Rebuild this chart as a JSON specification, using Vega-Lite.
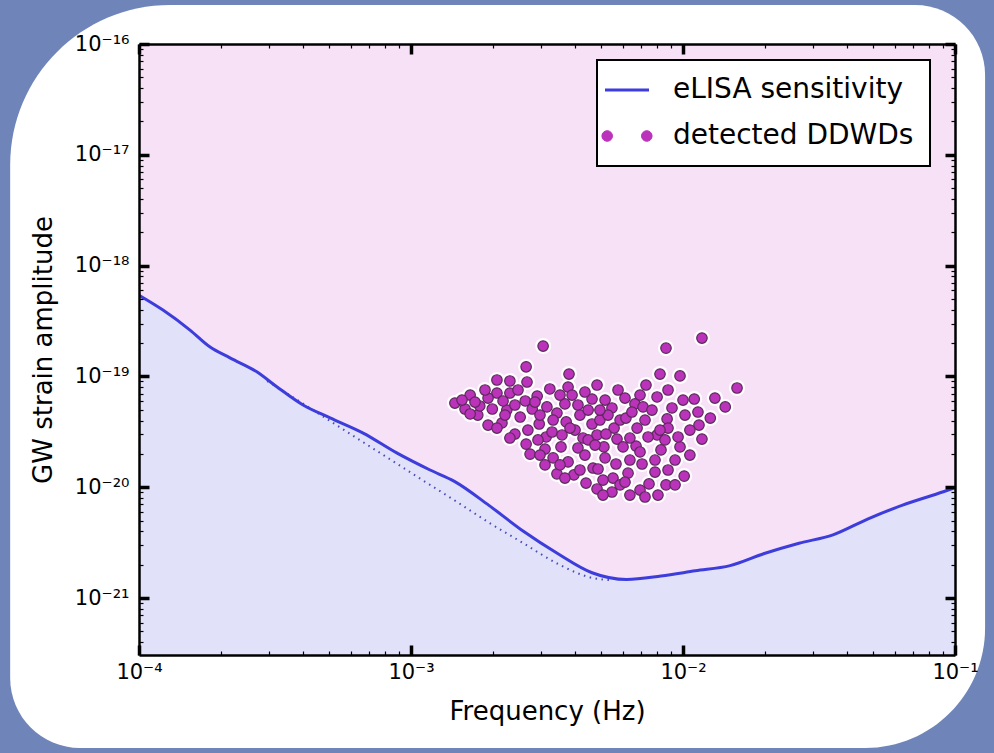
{
  "$schema": "https://vega.github.io/schema/vega-lite/v6.json",
  "width": 816,
  "height": 611,
  "autosize": {"type": "none"},
  "padding": {"left": 139, "top": 44, "right": 39, "bottom": 98},
  "background": "#6f85b9",
  "config": {"view": {"stroke": null}},
  "datasets": {
    "panel": [{"x1": 3.36e-5, "x2": 0.129, "y1": 2.25e-16, "y2": 4.43e-23}],
    "curve": [
      {"f": 1e-4, "h": 5.4e-19}, {"f": 1.225e-4, "h": 3.97e-19}, {"f": 1.54e-4, "h": 2.62e-19},
      {"f": 1.82e-4, "h": 1.85e-19}, {"f": 2.16e-4, "h": 1.47e-19}, {"f": 2.71e-4, "h": 1.10e-19},
      {"f": 3.21e-4, "h": 8.07e-20}, {"f": 4.01e-4, "h": 5.52e-20}, {"f": 5.04e-4, "h": 4.22e-20},
      {"f": 6.67e-4, "h": 3.08e-20}, {"f": 8.86e-4, "h": 2.04e-20}, {"f": 1.175e-3, "h": 1.43e-20},
      {"f": 1.444e-3, "h": 1.13e-20}, {"f": 1.934e-3, "h": 6.86e-21}, {"f": 2.59e-3, "h": 4.0e-21},
      {"f": 3.46e-3, "h": 2.52e-21}, {"f": 4.63e-3, "h": 1.69e-21}, {"f": 6.21e-3, "h": 1.47e-21},
      {"f": 8.30e-3, "h": 1.58e-21}, {"f": 1.11e-2, "h": 1.76e-21}, {"f": 1.49e-2, "h": 1.96e-21},
      {"f": 1.99e-2, "h": 2.52e-21}, {"f": 2.67e-2, "h": 3.12e-21}, {"f": 3.56e-2, "h": 3.72e-21},
      {"f": 4.77e-2, "h": 5.16e-21}, {"f": 6.38e-2, "h": 6.86e-21}, {"f": 9.06e-2, "h": 9.1e-21},
      {"f": 0.1, "h": 9.9e-21}
    ],
    "dotted": [
      {"f": 2.96e-4, "h": 9.09e-20}, {"f": 3.5e-4, "h": 7.02e-20}, {"f": 5.04e-4, "h": 3.96e-20},
      {"f": 7.69e-4, "h": 2.04e-20}, {"f": 1.175e-3, "h": 1.05e-20}, {"f": 1.44e-3, "h": 7.66e-21},
      {"f": 1.935e-3, "h": 4.79e-21}, {"f": 2.58e-3, "h": 3.14e-21}, {"f": 3.47e-3, "h": 2.03e-21},
      {"f": 4.63e-3, "h": 1.52e-21}, {"f": 5.4e-3, "h": 1.45e-21}
    ],
    "points": [
      {"f": 3.06e-3, "h": 1.88e-19}, {"f": 1.174e-2, "h": 2.22e-19}, {"f": 8.66e-3, "h": 1.80e-19},
      {"f": 2.65e-3, "h": 1.22e-19}, {"f": 3.81e-3, "h": 1.05e-19}, {"f": 8.23e-3, "h": 1.05e-19},
      {"f": 9.75e-3, "h": 1.01e-19}, {"f": 2.07e-3, "h": 9.28e-20}, {"f": 2.31e-3, "h": 9.09e-20},
      {"f": 2.67e-3, "h": 8.90e-20}, {"f": 4.83e-3, "h": 8.36e-20}, {"f": 7.31e-3, "h": 8.36e-20},
      {"f": 1.58e-2, "h": 7.86e-20}, {"f": 2.07e-3, "h": 7.08e-20}, {"f": 2.31e-3, "h": 7.08e-20},
      {"f": 1.65e-3, "h": 6.79e-20}, {"f": 2.91e-3, "h": 6.65e-20}, {"f": 3.24e-3, "h": 7.70e-20},
      {"f": 3.78e-3, "h": 8.02e-20}, {"f": 1.45e-3, "h": 5.75e-20}, {"f": 2.63e-3, "h": 6.00e-20},
      {"f": 3.68e-3, "h": 5.64e-20}, {"f": 4.11e-3, "h": 5.52e-20}, {"f": 4.63e-3, "h": 6.25e-20},
      {"f": 3.16e-3, "h": 5.30e-20}, {"f": 1.58e-3, "h": 5.08e-20}, {"f": 1.76e-3, "h": 4.48e-20},
      {"f": 2.25e-3, "h": 4.97e-20}, {"f": 2.52e-3, "h": 4.30e-20}, {"f": 3.44e-3, "h": 4.67e-20},
      {"f": 4.18e-3, "h": 4.48e-20}, {"f": 4.48e-3, "h": 4.97e-20}, {"f": 5.77e-3, "h": 7.54e-20},
      {"f": 6.12e-3, "h": 6.38e-20}, {"f": 6.66e-3, "h": 5.64e-20}, {"f": 7.13e-3, "h": 5.30e-20},
      {"f": 5.48e-3, "h": 5.19e-20}, {"f": 8.03e-3, "h": 6.52e-20}, {"f": 1.00e-2, "h": 6.12e-20},
      {"f": 1.10e-2, "h": 6.25e-20}, {"f": 1.135e-2, "h": 4.77e-20}, {"f": 1.43e-2, "h": 5.30e-20},
      {"f": 8.74e-3, "h": 4.13e-20}, {"f": 1.79e-3, "h": 5.41e-20}, {"f": 1.99e-3, "h": 5.08e-20},
      {"f": 2.16e-3, "h": 3.80e-20}, {"f": 2.96e-3, "h": 3.72e-20}, {"f": 3.72e-3, "h": 3.88e-20},
      {"f": 4.63e-3, "h": 3.72e-20}, {"f": 2.65e-3, "h": 2.45e-20}, {"f": 3.11e-3, "h": 2.21e-20},
      {"f": 3.56e-3, "h": 2.31e-20}, {"f": 4.11e-3, "h": 2.26e-20}, {"f": 3.14e-3, "h": 2.84e-20},
      {"f": 2.41e-3, "h": 3.02e-20}, {"f": 3.78e-3, "h": 1.69e-20}, {"f": 4.67e-3, "h": 1.49e-20},
      {"f": 3.44e-3, "h": 1.32e-20}, {"f": 3.97e-3, "h": 1.29e-20}, {"f": 4.40e-3, "h": 1.09e-20},
      {"f": 4.83e-3, "h": 9.64e-21}, {"f": 2.74e-3, "h": 1.99e-20}, {"f": 3.33e-3, "h": 1.84e-20},
      {"f": 4.29e-3, "h": 2.78e-20}, {"f": 4.83e-3, "h": 2.96e-20}, {"f": 5.58e-3, "h": 3.42e-20},
      {"f": 6.78e-3, "h": 3.42e-20}, {"f": 8.81e-3, "h": 3.42e-20}, {"f": 1.145e-2, "h": 3.64e-20},
      {"f": 1.174e-2, "h": 2.72e-20}, {"f": 5.12e-3, "h": 2.31e-20}, {"f": 6.72e-3, "h": 2.35e-20},
      {"f": 8.30e-3, "h": 2.17e-20}, {"f": 9.75e-3, "h": 2.31e-20}, {"f": 5.67e-3, "h": 1.62e-20},
      {"f": 7.07e-3, "h": 1.62e-20}, {"f": 8.81e-3, "h": 1.43e-20}, {"f": 1.01e-2, "h": 1.26e-20},
      {"f": 4.87e-3, "h": 1.46e-20}, {"f": 5.53e-3, "h": 1.21e-20}, {"f": 6.28e-3, "h": 1.34e-20},
      {"f": 7.50e-3, "h": 1.07e-20}, {"f": 8.66e-3, "h": 1.05e-20}, {"f": 5.48e-3, "h": 9.05e-21},
      {"f": 6.38e-3, "h": 8.50e-21}, {"f": 8.09e-3, "h": 8.50e-21}, {"f": 8.03e-3, "h": 2.96e-20},
      {"f": 5.21e-3, "h": 3.02e-20}, {"f": 5.72e-3, "h": 2.72e-20}, {"f": 7.44e-3, "h": 2.84e-20},
      {"f": 6.02e-3, "h": 2.31e-20}, {"f": 8.23e-3, "h": 3.28e-20}, {"f": 1.54e-3, "h": 6.12e-20},
      {"f": 1.92e-3, "h": 6.38e-20}, {"f": 2.18e-3, "h": 6.00e-20}, {"f": 2.41e-3, "h": 5.52e-20},
      {"f": 2.79e-3, "h": 5.08e-20}, {"f": 2.98e-3, "h": 4.48e-20}, {"f": 3.33e-3, "h": 4.04e-20},
      {"f": 2.69e-3, "h": 3.28e-20}, {"f": 2.93e-3, "h": 2.67e-20}, {"f": 3.30e-3, "h": 3.15e-20},
      {"f": 3.59e-3, "h": 2.96e-20}, {"f": 4.01e-3, "h": 3.28e-20}, {"f": 4.48e-3, "h": 2.67e-20},
      {"f": 4.95e-3, "h": 4.04e-20}, {"f": 5.30e-3, "h": 4.48e-20}, {"f": 5.87e-3, "h": 4.04e-20},
      {"f": 6.17e-3, "h": 4.21e-20}, {"f": 6.49e-3, "h": 4.77e-20}, {"f": 7.25e-3, "h": 4.04e-20},
      {"f": 7.69e-3, "h": 4.97e-20}, {"f": 9.11e-3, "h": 5.19e-20}, {"f": 9.59e-3, "h": 2.84e-20},
      {"f": 1.06e-2, "h": 3.28e-20}, {"f": 1.06e-2, "h": 1.95e-20}, {"f": 9.35e-3, "h": 1.76e-20},
      {"f": 7.89e-3, "h": 1.76e-20}, {"f": 6.38e-3, "h": 1.76e-20}, {"f": 5.17e-3, "h": 1.84e-20},
      {"f": 4.36e-3, "h": 1.95e-20}, {"f": 3.68e-3, "h": 1.21e-20}, {"f": 3.11e-3, "h": 1.59e-20},
      {"f": 5.08e-3, "h": 1.16e-20}, {"f": 5.87e-3, "h": 1.05e-20}, {"f": 6.95e-3, "h": 9.43e-21},
      {"f": 9.35e-3, "h": 1.05e-20}, {"f": 1.26e-2, "h": 4.21e-20}, {"f": 1.31e-2, "h": 6.38e-20},
      {"f": 3.91e-3, "h": 6.79e-20}, {"f": 5.17e-3, "h": 6.12e-20}, {"f": 1.92e-3, "h": 3.64e-20},
      {"f": 2.31e-3, "h": 2.78e-20}, {"f": 1.65e-3, "h": 4.58e-20},
      {"f": 2.216e-3, "h": 4.48e-20}, {"f": 2.857e-3, "h": 5.87e-20}, {"f": 3.53e-3, "h": 6.79e-20},
      {"f": 4.36e-3, "h": 7.23e-20}, {"f": 3.842e-3, "h": 3.42e-20}, {"f": 2.98e-3, "h": 1.95e-20},
      {"f": 3.53e-3, "h": 1.59e-20}, {"f": 4.18e-3, "h": 1.43e-20}, {"f": 6.12e-3, "h": 1.11e-20},
      {"f": 7.89e-3, "h": 1.37e-20}, {"f": 6.95e-3, "h": 2.08e-20}, {"f": 4.749e-3, "h": 2.40e-20},
      {"f": 6.38e-3, "h": 2.78e-20}, {"f": 8.587e-3, "h": 2.67e-20}, {"f": 1.017e-2, "h": 4.48e-20},
      {"f": 4.95e-3, "h": 4.97e-20}, {"f": 6.95e-3, "h": 6.79e-20}, {"f": 8.81e-3, "h": 7.54e-20},
      {"f": 2.474e-3, "h": 7.54e-20}, {"f": 1.871e-3, "h": 7.54e-20}, {"f": 1.719e-3, "h": 5.87e-20},
      {"f": 2.07e-3, "h": 3.42e-20}, {"f": 7.25e-3, "h": 8.16e-21}, {"f": 5.08e-3, "h": 8.50e-21}
    ]
  },
  "layer": [
    {
      "data": {"name": "panel"},
      "mark": {"type": "rect", "fill": "white", "clip": false, "cornerRadiusTopLeft": 160, "cornerRadiusBottomRight": 120, "cornerRadiusTopRight": 70, "cornerRadiusBottomLeft": 70},
      "encoding": {
        "x": {"field": "x1", "type": "quantitative", "scale": {"type": "log", "domain": [0.0001, 0.1], "nice": false}, "axis": null},
        "x2": {"field": "x2"},
        "y": {"field": "y1", "type": "quantitative", "scale": {"type": "log", "domain": [3.06e-22, 1e-16], "nice": false}, "axis": null},
        "y2": {"field": "y2"}
      }
    },
    {
      "data": {"name": "curve"},
      "mark": {"type": "area", "fill": "#f6e1f6", "interpolate": "monotone", "clip": true},
      "encoding": {
        "x": {"field": "f", "type": "quantitative", "scale": {"type": "log", "domain": [0.0001, 0.1], "nice": false},
          "axis": {
            "orient": "bottom", "title": "Frequency (Hz)",
            "values": [0.0001,0.0002,0.0003,0.0004,0.0005,0.0006,0.0007,0.0008,0.0009,0.001,0.002,0.003,0.004,0.005,0.006,0.007,0.008,0.009,0.01,0.02,0.03,0.04,0.05,0.06,0.07,0.08,0.09,0.1],
            "grid": false, "zindex": 2,
            "domainColor": "black", "domainWidth": 2.5,
            "tickColor": "black",
            "tickWidth": {"condition": {"test": "abs(log(datum.value)/LN10 - round(log(datum.value)/LN10)) < 0.001", "value": 3.5}, "value": 1.2},
            "tickSize": {"condition": {"test": "abs(log(datum.value)/LN10 - round(log(datum.value)/LN10)) < 0.001", "value": -10}, "value": -4},
            "labelExpr": "abs(log(datum.value)/LN10 - round(log(datum.value)/LN10)) < 0.001 ? '10' + replace(replace(replace(replace(replace(replace(replace(replace(replace(replace(toString(round(log(datum.value)/LN10)), '-', '⁻'), '0', '⁰'), '1', '¹'), '2', '²'), '3', '³'), '4', '⁴'), '6', '⁶'), '7', '⁷'), '8', '⁸'), '9', '⁹') : ''",
            "labelFont": "DejaVu Sans", "labelFontSize": 21, "labelColor": "black", "labelPadding": 16,
            "labelFlush": false, "labelOverlap": false, "labelBound": false,
            "titleFont": "DejaVu Sans", "titleFontSize": 26, "titleFontWeight": "normal", "titleColor": "black", "titlePadding": 10
          }
        },
        "y": {"field": "h", "type": "quantitative", "scale": {"type": "log", "domain": [3.06e-22, 1e-16], "nice": false},
          "axis": {
            "orient": "left", "title": "GW strain amplitude",
            "values": [4e-22,5e-22,6e-22,7e-22,8e-22,9e-22,1e-21,2e-21,3e-21,4e-21,5e-21,6e-21,7e-21,8e-21,9e-21,1e-20,2e-20,3e-20,4e-20,5e-20,6e-20,7e-20,8e-20,9e-20,1e-19,2e-19,3e-19,4e-19,5e-19,6e-19,7e-19,8e-19,9e-19,1e-18,2e-18,3e-18,4e-18,5e-18,6e-18,7e-18,8e-18,9e-18,1e-17,2e-17,3e-17,4e-17,5e-17,6e-17,7e-17,8e-17,9e-17,1e-16],
            "grid": false, "zindex": 2,
            "domainColor": "black", "domainWidth": 2.5,
            "tickColor": "black",
            "tickWidth": {"condition": {"test": "abs(log(datum.value)/LN10 - round(log(datum.value)/LN10)) < 0.001", "value": 3.5}, "value": 1.2},
            "tickSize": {"condition": {"test": "abs(log(datum.value)/LN10 - round(log(datum.value)/LN10)) < 0.001", "value": -10}, "value": -4},
            "labelExpr": "abs(log(datum.value)/LN10 - round(log(datum.value)/LN10)) < 0.001 ? '10' + replace(replace(replace(replace(replace(replace(replace(replace(replace(replace(toString(round(log(datum.value)/LN10)), '-', '⁻'), '0', '⁰'), '1', '¹'), '2', '²'), '3', '³'), '4', '⁴'), '6', '⁶'), '7', '⁷'), '8', '⁸'), '9', '⁹') : ''",
            "labelFont": "DejaVu Sans", "labelFontSize": 21, "labelColor": "black", "labelPadding": 20,
            "labelFlush": false, "labelOverlap": false, "labelBound": false,
            "titleFont": "DejaVu Sans", "titleFontSize": 26, "titleFontWeight": "normal", "titleColor": "black", "titlePadding": 18
          }
        },
        "y2": {"datum": 1e-16}
      }
    },
    {
      "data": {"name": "curve"},
      "mark": {"type": "area", "fill": "#e1e1fa", "interpolate": "monotone", "clip": true},
      "encoding": {
        "x": {"field": "f", "type": "quantitative", "scale": {"type": "log", "domain": [0.0001, 0.1], "nice": false},
          "axis": {
            "orient": "top", "title": null, "labels": false,
            "values": [0.0001,0.0002,0.0003,0.0004,0.0005,0.0006,0.0007,0.0008,0.0009,0.001,0.002,0.003,0.004,0.005,0.006,0.007,0.008,0.009,0.01,0.02,0.03,0.04,0.05,0.06,0.07,0.08,0.09,0.1],
            "grid": false, "zindex": 2,
            "domainColor": "black", "domainWidth": 2.5,
            "tickColor": "black",
            "tickWidth": {"condition": {"test": "abs(log(datum.value)/LN10 - round(log(datum.value)/LN10)) < 0.001", "value": 3.5}, "value": 1.2},
            "tickSize": {"condition": {"test": "abs(log(datum.value)/LN10 - round(log(datum.value)/LN10)) < 0.001", "value": -10}, "value": -4}
          }
        },
        "y": {"field": "h", "type": "quantitative", "scale": {"type": "log", "domain": [3.06e-22, 1e-16], "nice": false},
          "axis": {
            "orient": "right", "title": null, "labels": false,
            "values": [4e-22,5e-22,6e-22,7e-22,8e-22,9e-22,1e-21,2e-21,3e-21,4e-21,5e-21,6e-21,7e-21,8e-21,9e-21,1e-20,2e-20,3e-20,4e-20,5e-20,6e-20,7e-20,8e-20,9e-20,1e-19,2e-19,3e-19,4e-19,5e-19,6e-19,7e-19,8e-19,9e-19,1e-18,2e-18,3e-18,4e-18,5e-18,6e-18,7e-18,8e-18,9e-18,1e-17,2e-17,3e-17,4e-17,5e-17,6e-17,7e-17,8e-17,9e-17,1e-16],
            "grid": false, "zindex": 2,
            "domainColor": "black", "domainWidth": 2.5,
            "tickColor": "black",
            "tickWidth": {"condition": {"test": "abs(log(datum.value)/LN10 - round(log(datum.value)/LN10)) < 0.001", "value": 3.5}, "value": 1.2},
            "tickSize": {"condition": {"test": "abs(log(datum.value)/LN10 - round(log(datum.value)/LN10)) < 0.001", "value": -10}, "value": -4}
          }
        },
        "y2": {"datum": 3.06e-22}
      }
    },
    {
      "data": {"name": "dotted"},
      "mark": {"type": "line", "color": "#4a4ab8", "strokeWidth": 2, "strokeDash": [1.5, 4.5], "interpolate": "monotone", "clip": true},
      "encoding": {
        "x": {"field": "f", "type": "quantitative", "scale": {"type": "log", "domain": [0.0001, 0.1], "nice": false}, "axis": null},
        "y": {"field": "h", "type": "quantitative", "scale": {"type": "log", "domain": [3.06e-22, 1e-16], "nice": false}, "axis": null}
      }
    },
    {
      "data": {"name": "curve"},
      "mark": {"type": "line", "strokeWidth": 3, "interpolate": "monotone", "clip": true},
      "encoding": {
        "x": {"field": "f", "type": "quantitative", "scale": {"type": "log", "domain": [0.0001, 0.1], "nice": false}, "axis": null},
        "y": {"field": "h", "type": "quantitative", "scale": {"type": "log", "domain": [3.06e-22, 1e-16], "nice": false}, "axis": null},
        "color": {"datum": "eLISA sensitivity", "type": "nominal",
          "scale": {"domain": ["eLISA sensitivity", "detected DDWDs"], "range": ["#3d3ddb", "#bb33bb"]},
          "legend": {
            "title": null, "orient": "none", "legendX": 458, "legendY": 16,
            "fillColor": "white", "strokeColor": "black", "padding": 16,
            "labelFont": "DejaVu Sans", "labelFontSize": 28, "labelColor": "black", "labelOffset": 32, "labelLimit": 500,
            "symbolSize": 1936, "rowPadding": 18,
            "encode": {
              "legend": {"update": {"strokeWidth": {"value": 2}}},
              "symbols": {"update": {
                "shape": {"signal": "datum.value === 'eLISA sensitivity' ? 'M-1,0L1,0' : 'M-1.14,0A0.24,0.24 0 1,1 -0.66,0A0.24,0.24 0 1,1 -1.14,0ZM0.66,0A0.24,0.24 0 1,1 1.14,0A0.24,0.24 0 1,1 0.66,0Z'"},
                "fill": {"signal": "datum.value === 'eLISA sensitivity' ? 'transparent' : '#bb33bb'"},
                "stroke": {"signal": "datum.value === 'eLISA sensitivity' ? '#3d3ddb' : '#5a2a5a'"},
                "strokeWidth": {"signal": "datum.value === 'eLISA sensitivity' ? 3 : 1"},
                "size": {"value": 1936},
                "opacity": {"value": 1}
              }}
            }
          }
        }
      }
    },
    {
      "data": {"name": "points"},
      "mark": {"type": "point", "shape": "circle", "filled": true, "fill": "white", "size": 260, "opacity": 0.9, "clip": true},
      "encoding": {
        "x": {"field": "f", "type": "quantitative", "scale": {"type": "log", "domain": [0.0001, 0.1], "nice": false}, "axis": null},
        "y": {"field": "h", "type": "quantitative", "scale": {"type": "log", "domain": [3.06e-22, 1e-16], "nice": false}, "axis": null}
      }
    },
    {
      "data": {"name": "points"},
      "mark": {"type": "point", "shape": "circle", "filled": true, "size": 110, "opacity": 1, "stroke": "#5a2a5a", "strokeWidth": 1.2, "clip": true},
      "encoding": {
        "x": {"field": "f", "type": "quantitative", "scale": {"type": "log", "domain": [0.0001, 0.1], "nice": false}, "axis": null},
        "y": {"field": "h", "type": "quantitative", "scale": {"type": "log", "domain": [3.06e-22, 1e-16], "nice": false}, "axis": null},
        "color": {"datum": "detected DDWDs", "type": "nominal",
          "scale": {"domain": ["eLISA sensitivity", "detected DDWDs"], "range": ["#3d3ddb", "#bb33bb"]}}
      }
    }
  ],
  "resolve": {"axis": {"x": "independent", "y": "independent"}}
}
